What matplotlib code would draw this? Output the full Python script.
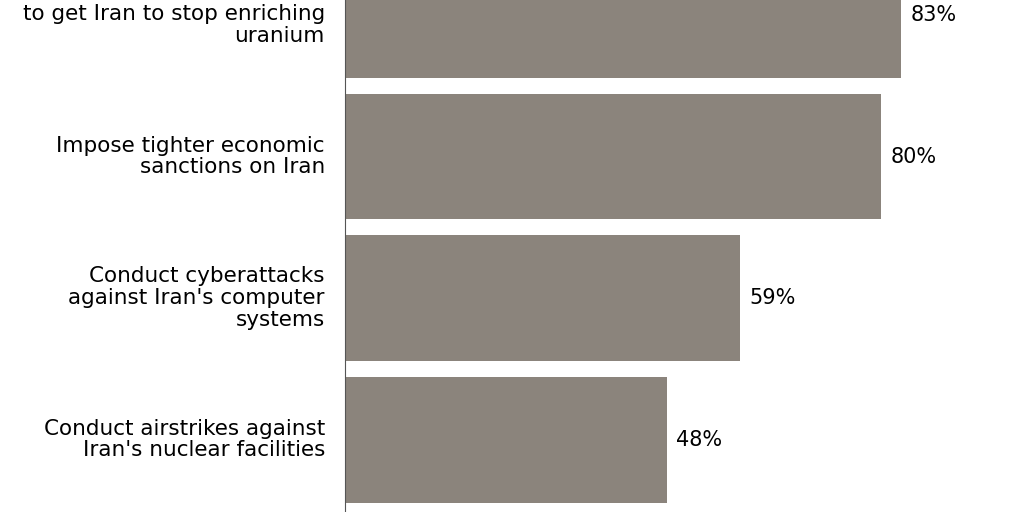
import matplotlib.pyplot as plt

labels = ["to get Iran to stop enriching\nuranium",
          "Impose tighter economic\nsanctions on Iran",
          "Conduct cyberattacks\nagainst Iran's computer\nsystems",
          "Conduct airstrikes against\nIran's nuclear facilities"]
values = [83, 80, 59, 48]

plt.rcParams['font.family'] = ['DejaVu Sans']
fig = plt.figure(figsize=(10.24, 5.12), dpi=100)
ax = fig.add_axes([345/1024, 0, 1 - 345/1024, 1])
pos = list(range(len(values)))
ax.barh(pos, values, height=0.89, color="#8b847c")
ax.set_xlim(0, 101.3)
ax.set_ylim(3.512, -0.106)
for p, v, l in zip(pos, values, labels):
    ax.text(v + 1.4, p, f"{v}%", va="center", ha="left", fontsize=15)
    # the first label is cropped at the top in the reference, keep its visible lines
    ly = p + 0.07 if p == 0 else p
    ax.text(-3, ly, l, va="center", ha="right", fontsize=15.5, linespacing=1.1, clip_on=False)
for s in ["top", "right", "bottom"]:
    ax.spines[s].set_visible(False)
ax.spines["left"].set_color("#555555")
ax.set_xticks([])
ax.set_yticks([])
fig.savefig("out.png", dpi=100)
